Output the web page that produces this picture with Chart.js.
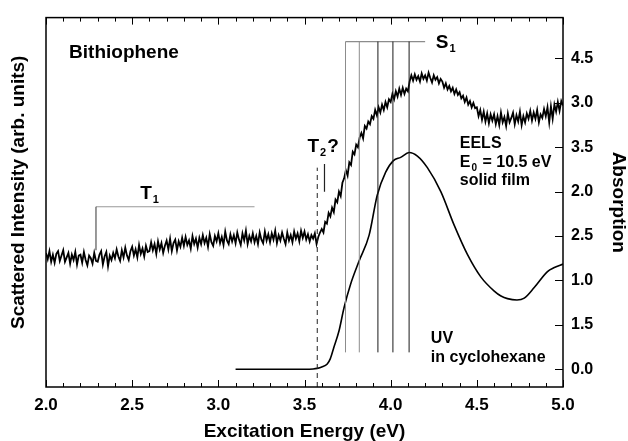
<!DOCTYPE html>
<html>
<head>
<meta charset="utf-8">
<script src="https://cdn.jsdelivr.net/npm/chart.js@4.4.1/dist/chart.umd.min.js"></script>
<style>
  html, body { margin: 0; padding: 0; background: #fff; }
  #chart { display: block; }
</style>
</head>
<body>
<canvas id="chart" width="628" height="441"></canvas>
<script>
// EELS trace, one reading every 0.01 eV from 2.00 to 5.00 eV
const eelsStart = 2.0;
const eelsStep = 0.01;
const eelsIntensity = [
    2.31, 2.24, 2.33, 2.21, 2.29, 2.20, 2.30, 2.33, 2.22, 2.28,
    2.34, 2.21, 2.26, 2.31, 2.19, 2.29, 2.23, 2.32, 2.18, 2.28,
    2.29, 2.20, 2.32, 2.23, 2.17, 2.28, 2.25, 2.19, 2.31, 2.22,
    2.21, 2.29, 2.33, 2.18, 2.27, 2.32, 2.16, 2.28, 2.23, 2.31,
    2.25, 2.35, 2.27, 2.22, 2.34, 2.26, 2.37, 2.28, 2.23, 2.33,
    2.38, 2.28, 2.35, 2.26, 2.40, 2.30, 2.36, 2.27, 2.39, 2.32,
    2.33, 2.43, 2.34, 2.41, 2.30, 2.44, 2.35, 2.42, 2.31, 2.39,
    2.45, 2.35, 2.47, 2.33, 2.42, 2.46, 2.34, 2.44, 2.38, 2.48,
    2.39, 2.49, 2.40, 2.45, 2.36, 2.50, 2.41, 2.47, 2.37, 2.48,
    2.41, 2.51, 2.42, 2.48, 2.38, 2.52, 2.43, 2.39, 2.50, 2.44,
    2.53, 2.42, 2.49, 2.40, 2.55, 2.45, 2.41, 2.52, 2.44, 2.51,
    2.42, 2.54, 2.46, 2.40, 2.53, 2.45, 2.56, 2.41, 2.50, 2.44,
    2.53, 2.43, 2.50, 2.41, 2.54, 2.46, 2.42, 2.55, 2.45, 2.52,
    2.43, 2.53, 2.46, 2.56, 2.42, 2.51, 2.45, 2.54, 2.47, 2.41,
    2.54, 2.45, 2.51, 2.43, 2.55, 2.47, 2.53, 2.44, 2.56, 2.48,
    2.55, 2.46, 2.52, 2.44, 2.51, 2.47, 2.53, 2.41, 2.49, 2.54,
    2.58, 2.54, 2.66, 2.64, 2.76, 2.72, 2.82, 2.77, 2.91, 2.88,
    3.00, 2.95, 3.10, 3.15, 3.24, 3.18, 3.33, 3.30, 3.45, 3.42,
    3.53, 3.50, 3.61, 3.66, 3.60, 3.74, 3.71, 3.79, 3.76, 3.85,
    3.82, 3.92, 3.86, 3.95, 3.89, 3.98, 3.92, 4.01, 3.95, 4.04,
    4.01, 4.10, 4.04, 4.13, 4.07, 4.16, 4.09, 4.17, 4.10, 4.16,
    4.13, 4.24, 4.31, 4.25, 4.32, 4.26, 4.30, 4.24, 4.33, 4.27,
    4.31, 4.25, 4.34, 4.28, 4.23, 4.31, 4.26, 4.29, 4.22, 4.27,
    4.24, 4.17, 4.22, 4.15, 4.19, 4.13, 4.17, 4.10, 4.15, 4.09,
    4.12, 4.05, 4.08, 4.01, 4.06, 3.98, 4.02, 3.95, 4.00, 3.94,
    3.95, 3.85, 3.92, 3.81, 3.90, 3.79, 3.88, 3.77, 3.87, 3.80,
    3.87, 3.76, 3.85, 3.75, 3.89, 3.78, 3.84, 3.74, 3.88, 3.78,
    3.83, 3.89, 3.76, 3.86, 3.79, 3.90, 3.75, 3.85, 3.78, 3.88,
    3.82, 3.91, 3.80, 3.89, 3.82, 3.92, 3.78, 3.87, 3.83, 3.93,
    3.85, 3.95, 3.78, 3.96, 3.82, 3.98, 3.90, 4.01, 3.91, 4.02,
    3.97
];

// UV absorption in cyclohexane
const uvEnergy = [3.10, 3.30, 3.50, 3.55, 3.574, 3.60, 3.632, 3.65, 3.671, 3.70, 3.729, 3.767, 3.816, 3.875, 3.922, 3.971, 4.016, 4.058, 4.107, 4.155, 4.213, 4.291, 4.369, 4.446, 4.523, 4.601, 4.64, 4.678, 4.733, 4.775, 4.833, 4.91, 4.95, 5.0];
const uvAbsorption = [0, 0, 0, 0.003, 0.01, 0.025, 0.06, 0.12, 0.25, 0.43, 0.69, 0.955, 1.215, 1.51, 1.96, 2.22, 2.35, 2.386, 2.44, 2.40, 2.27, 2.00, 1.62, 1.29, 1.04, 0.88, 0.825, 0.795, 0.78, 0.80, 0.92, 1.10, 1.145, 1.185];

// S1 vibronic progression (eV) and the span of its marker lines (absorption units)
const s1Energies = [3.738, 3.818, 3.926, 4.013, 4.107];
const s1Span = [0.19, 3.69];
const s1BracketEnd = 4.20;

// T1 bracket, T2 marker and onset line
const t1X = [2.29, 2.29, 3.21];
const t1Y = [1.34, 1.83, 1.83];
const t2Energy = 3.616;
const t2Span = [2.0, 2.31];
const onsetEnergy = 3.574;
const onsetSpan = [-0.2, 2.27];

// right axis carries two interleaved scales
const absTickLabels = ['0.0', '1.5', '1.0', '2.5', '2.0', '3.5', '3.0', '4.5'];

const FONT = '"Liberation Sans", Arial, Helvetica, sans-serif';

const eelsPoints = eelsIntensity.map((v, i) => ({ x: eelsStart + i * eelsStep, y: v }));
const uvPoints = uvEnergy.map((e, i) => ({ x: e, y: uvAbsorption[i] }));

function segment(points, color, width, dash) {
    return {
        data: points,
        borderColor: color,
        borderWidth: width,
        borderDash: dash || [],
        pointRadius: 0,
        fill: false,
        tension: 0,
        yAxisID: 'y'
    };
}

const datasets = [];
s1Energies.forEach((e, i) => {
    const col = i < 2 ? '#8c8c8c' : '#1a1a1a';
    datasets.push(segment([{ x: e, y: s1Span[0] }, { x: e, y: s1Span[1] }], col, 1));
});
datasets.push(segment([{ x: s1Energies[0], y: s1Span[1] }, { x: s1BracketEnd, y: s1Span[1] }], '#8c8c8c', 1.2));
datasets.push(segment([{ x: t1X[0], y: t1Y[0] }, { x: t1X[1], y: t1Y[1] }], '#555', 1.2));
datasets.push(segment([{ x: t1X[1], y: t1Y[1] }, { x: t1X[2], y: t1Y[2] }], '#999', 1.2));
datasets.push(segment([{ x: t2Energy, y: t2Span[0] }, { x: t2Energy, y: t2Span[1] }], '#222', 1.2));
datasets.push(segment([{ x: onsetEnergy, y: onsetSpan[0] }, { x: onsetEnergy, y: onsetSpan[1] }], '#222', 1, [5, 4]));
datasets.push({
    data: uvPoints,
    borderColor: '#000',
    borderWidth: 1.6,
    pointRadius: 0,
    fill: false,
    cubicInterpolationMode: 'monotone',
    yAxisID: 'y'
});
datasets.push({
    data: eelsPoints,
    borderColor: '#000',
    borderWidth: 1.8,
    pointRadius: 0,
    fill: false,
    tension: 0,
    yAxisID: 'yE'
});

// frame with inward ticks
const frameTicks = {
    id: 'frameTicks',
    afterDatasetsDraw(chart) {
        const { ctx, chartArea: a, scales: { x, y } } = chart;
        ctx.save();
        ctx.strokeStyle = '#000';
        ctx.lineWidth = 1.5;
        ctx.strokeRect(a.left, a.top, a.right - a.left, a.bottom - a.top);
        ctx.lineWidth = 1;
        ctx.beginPath();
        for (let i = 20; i <= 50; i++) {
            const px = Math.round(x.getPixelForValue(i / 10)) + 0.5;
            const len = i % 5 === 0 ? 7 : 4;
            ctx.moveTo(px, a.bottom);
            ctx.lineTo(px, a.bottom - len);
            ctx.moveTo(px, a.top);
            ctx.lineTo(px, a.top + len);
        }
        y.ticks.forEach(t => {
            const py = Math.round(y.getPixelForValue(t.value)) + 0.5;
            ctx.moveTo(a.right, py);
            ctx.lineTo(a.right - 8, py);
        });
        ctx.stroke();
        ctx.restore();
    }
};

// text notes placed in data units
const notes = [
    { e: 2.134, a: 3.51, text: 'Bithiophene', size: 19 },
    { e: 2.547, a: 1.918, text: 'T', size: 19, sub: '1' },
    { e: 3.517, a: 2.441, text: 'T', size: 19, sub: '2', tail: '?' },
    { e: 4.262, a: 3.613, text: 'S', size: 19, sub: '1' },
    { e: 4.401, a: 2.497, text: 'EELS', size: 16 },
    { e: 4.401, a: 2.274, text: 'E', size: 16, sub: '0', tail: ' = 10.5 eV' },
    { e: 4.401, a: 2.073, text: 'solid film', size: 16 },
    { e: 4.233, a: 0.301, text: 'UV', size: 16 },
    { e: 4.233, a: 0.078, text: 'in cyclohexane', size: 16 }
];

const noteLabels = {
    id: 'noteLabels',
    afterDraw(chart) {
        const { ctx, chartArea: area, scales: { x, y } } = chart;
        ctx.save();
        ctx.fillStyle = '#000';
        ctx.textBaseline = 'alphabetic';
        ctx.textAlign = 'left';
        notes.forEach(n => {
            let px = x.getPixelForValue(n.e);
            const py = y.getPixelForValue(n.a);
            ctx.font = 'bold ' + n.size + 'px ' + FONT;
            ctx.fillText(n.text, px, py);
            px += ctx.measureText(n.text).width;
            if (n.sub) {
                ctx.font = 'bold ' + Math.round(n.size * 0.6) + 'px ' + FONT;
                ctx.fillText(n.sub, px + 1, py + 4);
                px += ctx.measureText(n.sub).width + 2;
            }
            if (n.tail) {
                ctx.font = 'bold ' + n.size + 'px ' + FONT;
                ctx.fillText(n.tail, px, py);
            }
        });
        // left axis title, sits a little above the middle of the axis
        ctx.translate(19, (area.top + area.bottom) / 2 - 10);
        ctx.rotate(-Math.PI / 2);
        ctx.textAlign = 'center';
        ctx.textBaseline = 'middle';
        ctx.font = 'bold 19px ' + FONT;
        ctx.fillText('Scattered Intensity (arb. units)', 0, 0);
        ctx.restore();
    }
};

new Chart(document.getElementById('chart'), {
    type: 'line',
    data: { datasets },
    plugins: [frameTicks, noteLabels],
    options: {
        responsive: false,
        animation: false,
        devicePixelRatio: 1,
        layout: { padding: { top: 14, left: 0, right: 0, bottom: 0 } },
        plugins: {
            legend: { display: false },
            tooltip: { enabled: false }
        },
        scales: {
            x: {
                type: 'linear',
                position: 'bottom',
                min: 2.0,
                max: 5.0,
                grid: { display: false, drawTicks: false },
                border: { display: false },
                ticks: {
                    stepSize: 0.5,
                    padding: 8,
                    maxRotation: 0,
                    autoSkip: false,
                    color: '#000',
                    font: { family: FONT, size: 17, weight: 'bold' },
                    callback: v => v.toFixed(1)
                },
                title: {
                    display: true,
                    text: 'Excitation Energy (eV)',
                    color: '#000',
                    font: { family: FONT, size: 19, weight: 'bold' },
                    padding: { top: 0, bottom: -2 }
                },
                afterFit: s => { s.height = 54; }
            },
            y: {
                type: 'linear',
                position: 'right',
                min: -0.2,
                max: 3.96,
                grid: { display: false, drawTicks: false },
                border: { display: false },
                ticks: {
                    stepSize: 0.5,
                    includeBounds: false,
                    padding: 8,
                    color: '#000',
                    font: { family: FONT, size: 16, weight: 'bold' },
                    callback: v => absTickLabels[Math.round(v / 0.5)] || ''
                },
                title: {
                    display: true,
                    text: 'Absorption',
                    color: '#000',
                    font: { family: FONT, size: 19, weight: 'bold' },
                    padding: { top: -2, bottom: 0 }
                },
                afterFit: s => { s.width = 65; }
            },
            yE: {
                type: 'linear',
                position: 'left',
                min: 0.8,
                max: 4.96,
                grid: { display: false, drawTicks: false },
                border: { display: false },
                ticks: { display: false },
                title: { display: false },
                afterFit: s => { s.width = 46; }
            }
        }
    }
});
</script>
</body>
</html>
